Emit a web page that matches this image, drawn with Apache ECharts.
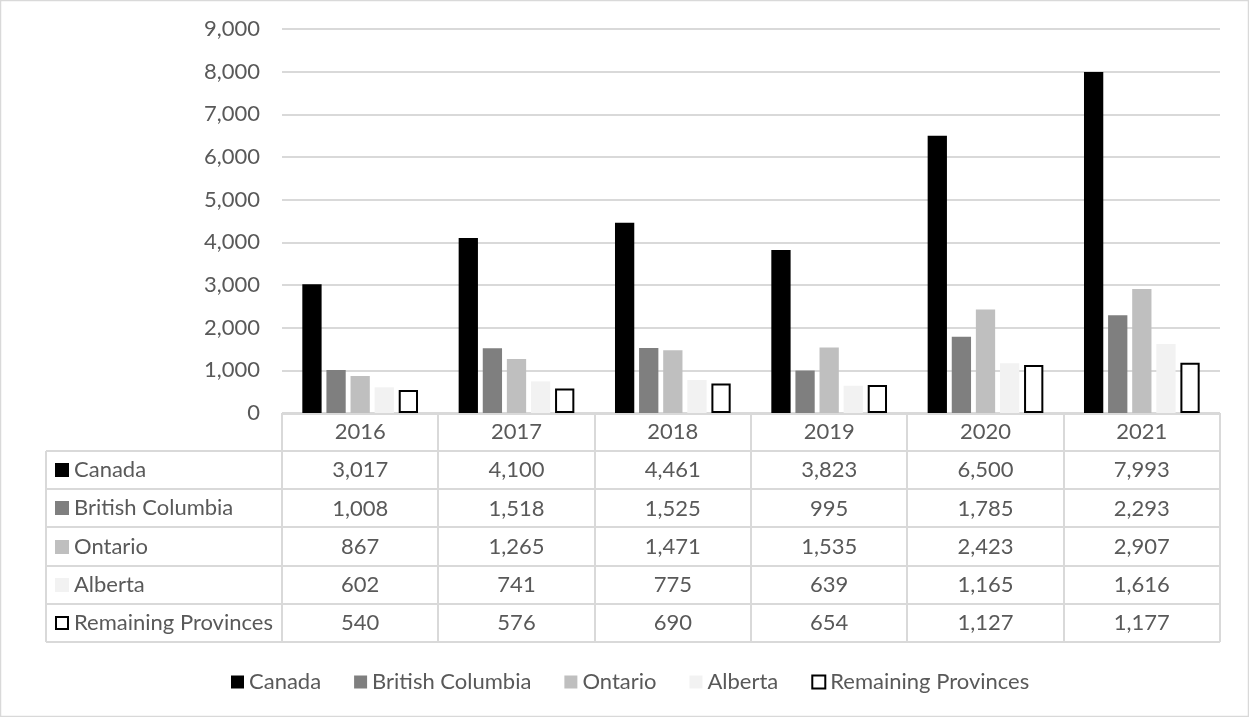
<!DOCTYPE html>
<html><head><meta charset="utf-8">
<script src="https://cdn.jsdelivr.net/npm/echarts@6/dist/echarts.min.js"></script>
<style>html,body{margin:0;padding:0;background:#fff}#c{width:1249px;height:717px}</style>
</head><body><div id="c"></div>
<script>
const years = ['2016', '2017', '2018', '2019', '2020', '2021'];
const seriesNames = ['Canada', 'British Columbia', 'Ontario', 'Alberta', 'Remaining Provinces'];
const canada = [3017, 4100, 4461, 3823, 6500, 7993];
const britishColumbia = [1008, 1518, 1525, 995, 1785, 2293];
const ontario = [867, 1265, 1471, 1535, 2423, 2907];
const alberta = [602, 741, 775, 639, 1165, 1616];
const remaining = [540, 576, 690, 654, 1127, 1177];
const yMin = 0, yMax = 9000, yStep = 1000;

const seriesValues = [canada, britishColumbia, ontario, alberta, remaining];
const fills = ['#000000', '#7f7f7f', '#bfbfbf', '#f2f2f2', '#ffffff'];
const borders = [null, null, null, null, '#000000'];

const FONT = 'Lato';
const TXT = '#595959';
const LINE = '#d9d9d9';
const FS = 22;
const gLeft = 282, gRight = 1220, gTop = 29, gBottom = 413;
const rowH = 38.2;
const tableLeft = 46;
const fmt = v => Number(v).toLocaleString('en-US');

const chart = echarts.init(document.getElementById('c'), null, {renderer: 'canvas'});

const graphics = [];
// outer border
graphics.push({type: 'rect', shape: {x: 0.5, y: 0.5, width: 1248, height: 716},
  style: {fill: 'none', stroke: LINE, lineWidth: 1.5}, silent: true});
const nRows = seriesNames.length;
const headerBottom = gBottom + 38;
const tableBottom = headerBottom + nRows * rowH;
// horizontal lines
graphics.push({type: 'line', shape: {x1: gLeft, y1: gBottom + 1, x2: gRight, y2: gBottom + 1}, style: {stroke: LINE, lineWidth: 2}, silent: true});
for (let i = 0; i <= nRows; i++) {
  const y = Math.round(headerBottom + i * rowH);
  graphics.push({type: 'line', shape: {x1: tableLeft, y1: y, x2: gRight, y2: y}, style: {stroke: LINE, lineWidth: 2}, silent: true});
}
// vertical lines
const colW = (gRight - gLeft) / years.length;
for (let j = 0; j <= years.length; j++) {
  const x = Math.round(gLeft + j * colW);
  graphics.push({type: 'line', shape: {x1: x, y1: gBottom, x2: x, y2: Math.round(tableBottom)}, style: {stroke: LINE, lineWidth: 2}, silent: true});
}
graphics.push({type: 'line', shape: {x1: tableLeft, y1: headerBottom, x2: tableLeft, y2: Math.round(tableBottom)}, style: {stroke: LINE, lineWidth: 2}, silent: true});
// row labels with keys
seriesNames.forEach((name, i) => {
  const cy = headerBottom + i * rowH + rowH / 2;
  const key = {type: 'rect', shape: {x: 55, y: Math.round(cy - 7), width: 14, height: 14},
    style: {fill: fills[i], stroke: borders[i] || null, lineWidth: borders[i] ? 2 : 0}, silent: true};
  if (borders[i]) { key.shape = {x: 56, y: Math.round(cy - 6), width: 12, height: 12}; }
  graphics.push(key);
  graphics.push({type: 'text', x: 74, y: cy, silent: true,
    style: {text: name, font: FS + 'px ' + FONT, fill: TXT, verticalAlign: 'middle', align: 'left'}});
});

const option = {
  animation: false,
  backgroundColor: '#ffffff',
  textStyle: {fontFamily: FONT},
  grid: {left: gLeft, right: 1249 - gRight, top: gTop, bottom: 717 - gBottom, containLabel: false},
  legend: {
    left: 226, top: 665, itemWidth: 13, itemHeight: 13, itemGap: 33,
    textStyle: {color: TXT, fontSize: FS, fontFamily: FONT, lineHeight: 24},
    data: seriesNames.map((n, i) => borders[i]
      ? {name: n, icon: 'rect', itemStyle: {color: '#fff', borderColor: '#000', borderWidth: 2}}
      : {name: n, icon: 'rect'})
  },
  xAxis: {
    type: 'category', data: years,
    axisLine: {show: false}, axisTick: {show: false},
    axisLabel: {
      interval: 0, margin: 0, color: TXT, fontSize: FS, fontFamily: FONT, lineHeight: rowH,
      formatter: (val, idx) => [val].concat(seriesValues.map(s => fmt(s[idx]))).join('\n')
    }
  },
  yAxis: {
    type: 'value', min: yMin, max: yMax, interval: yStep,
    axisLine: {show: false}, axisTick: {show: false},
    axisLabel: {color: TXT, fontSize: FS, fontFamily: FONT, margin: 22, formatter: v => fmt(v)},
    splitLine: {lineStyle: {color: LINE, width: 2}}
  },
  series: seriesNames.map((n, i) => ({
    name: n, type: 'bar', data: seriesValues[i],
    barGap: '25%', barCategoryGap: '26%',
    itemStyle: borders[i] ? {color: fills[i], borderColor: borders[i], borderWidth: 2} : {color: fills[i]}
  })),
  graphic: graphics
};
chart.setOption(option);
</script></body></html>
